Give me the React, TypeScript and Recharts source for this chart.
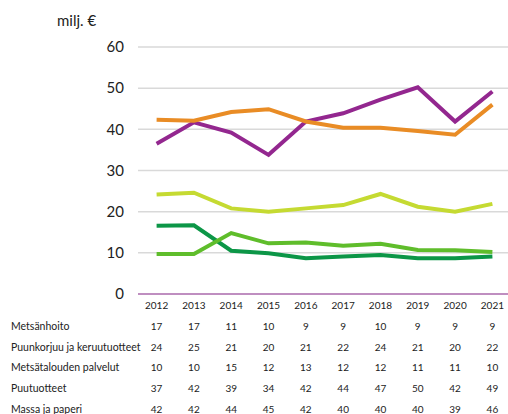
import { CartesianGrid, Line, LineChart, XAxis, YAxis } from "recharts";

const years = ["2012", "2013", "2014", "2015", "2016", "2017", "2018", "2019", "2020", "2021"];

// line values (the table below shows them rounded)
const metsanhoito = [16.6, 16.7, 10.5, 9.9, 8.7, 9.1, 9.5, 8.7, 8.7, 9.1];
const puunkorjuu = [24.2, 24.6, 20.8, 20.0, 20.8, 21.6, 24.3, 21.2, 20.0, 21.9];
const palvelut = [9.7, 9.7, 14.8, 12.3, 12.5, 11.7, 12.2, 10.7, 10.6, 10.2];
const puutuotteet = [36.5, 41.7, 39.2, 33.8, 41.9, 43.9, 47.2, 50.2, 41.9, 49.2];
const massa = [42.3, 42.1, 44.2, 44.9, 41.9, 40.4, 40.4, 39.6, 38.7, 46.0];

const yTicks = [0, 10, 20, 30, 40, 50, 60];

const series = [
  { key: "metsanhoito", name: "Metsänhoito", values: metsanhoito, color: "#0c9647" },
  { key: "puunkorjuu", name: "Puunkorjuu ja keruutuotteet", values: puunkorjuu, color: "#c5da32" },
  { key: "palvelut", name: "Metsätalouden palvelut", values: palvelut, color: "#5fbd2b" },
  { key: "puutuotteet", name: "Puutuotteet", values: puutuotteet, color: "#93278f" },
  { key: "massa", name: "Massa ja paperi", values: massa, color: "#e98c25" },
];

const data = years.map((year, i) => {
  const row: any = { year };
  series.forEach((s) => {
    row[s.key] = s.values[i];
  });
  return row;
});

const font = "Lato, 'Open Sans', sans-serif";
const rowOffsets = [31.7, 52.5, 73.3, 94.2, 115];

const TableTick = (props: any) => {
  const { x, y, payload } = props;
  const i = payload.index;
  return (
    <g fontFamily={font} fontSize={10} fill="#222">
      <text x={x} y={y + 11} textAnchor="middle" dominantBaseline="central">
        {payload.value}
      </text>
      {series.map((s, r) => (
        <text key={s.key} x={x} y={y + rowOffsets[r]} textAnchor="middle" dominantBaseline="central">
          {Math.round(s.values[i])}
        </text>
      ))}
      {i === 0 &&
        series.map((s, r) => (
          <text
            key={"l" + s.key}
            x={11}
            y={y + rowOffsets[r]}
            fontSize={10.5}
            dominantBaseline="central"
          >
            {s.name}
          </text>
        ))}
    </g>
  );
};

export default function App() {
  return (
    <div
      style={{
        position: "fixed",
        left: 0,
        top: 0,
        width: 508,
        height: 414,
        overflow: "hidden",
        background: "#fff",
      }}
    >
      <div
        style={{
          position: "absolute",
          left: 57,
          top: 11,
          fontFamily: font,
          fontSize: 15,
          color: "#222",
        }}
      >
        milj. €
      </div>
      <LineChart width={511} height={414} data={data} margin={{ top: 47, right: 0, left: 0, bottom: 0 }}>
        <CartesianGrid vertical={false} stroke="#d9d9d9" strokeWidth={1.5} />
        <XAxis
          dataKey="year"
          height={120}
          padding={{ left: 18.6, right: 18.6 }}
          axisLine={{ stroke: "#9b3a9e", strokeWidth: 1.2 }}
          tickLine={false}
          tickSize={0}
          tickMargin={0}
          interval={0}
          tick={<TableTick />}
        />
        <YAxis
          width={138}
          domain={[0, 60]}
          ticks={yTicks}
          axisLine={false}
          tickLine={false}
          tickSize={0}
          tickMargin={14}
          tick={{ fill: "#222", fontSize: 15, fontFamily: font }}
        />
        {series.map((s) => (
          <Line
            key={s.key}
            type="linear"
            dataKey={s.key}
            stroke={s.color}
            strokeWidth={4}
            dot={false}
            isAnimationActive={false}
          />
        ))}
      </LineChart>
    </div>
  );
}
